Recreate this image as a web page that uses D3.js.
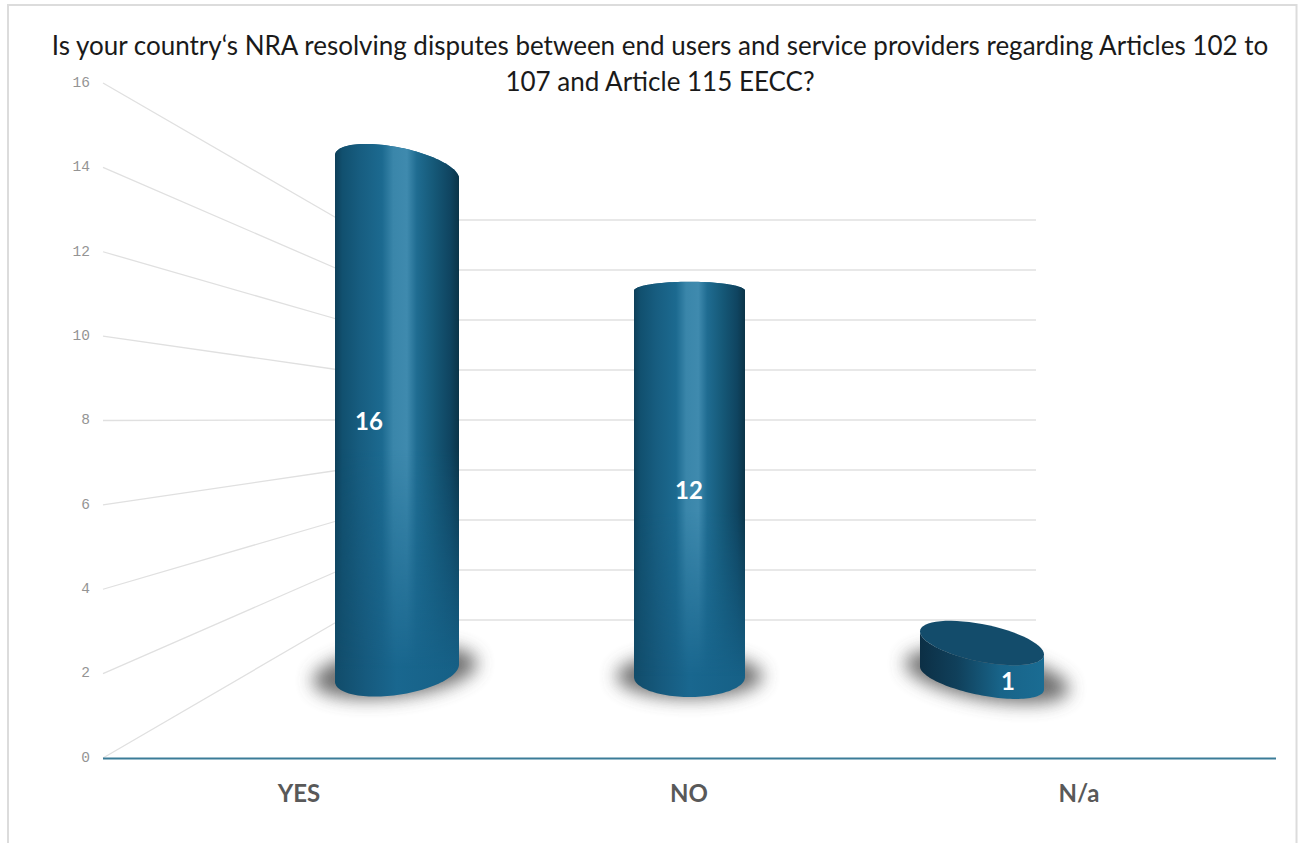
<!DOCTYPE html>
<html>
<head>
<meta charset="utf-8">
<script src="https://cdn.jsdelivr.net/npm/d3@7"></script>
<style>
  html, body { margin: 0; padding: 0; background: #fff; overflow: hidden; }
  svg { display: block; }
</style>
</head>
<body>
<svg id="chart" width="1303" height="843"></svg>
<script>
// Survey answers
const categories = ["YES", "NO", "N/a"];
const answers = [16, 12, 1];
const axisTicks = [0, 2, 4, 6, 8, 10, 12, 14, 16];
const titleLines = [
  "Is your country\u2018s NRA resolving disputes between end users and service providers regarding Articles 102 to",
  "107 and Article 115 EECC?"
];

// Perspective of each cylinder: base centre, radii, skew of the end caps,
// and how many pixels the full 0-16 range spans at that depth.
const cylinders = [
  { cx: 397, base: 673, span: 506, rx: 62, topB: 20, topS: 11.5, botB: 22, botS: -8.5, labelX: 369, labelY: 421,
    shadow: { cx: 395, cy: 672, rx: 82, ry: 25, s: -9 } },
  { cx: 689.5, base: 677, span: 515, rx: 55.5, topB: 9, topS: 0, botB: 20, botS: 0, labelX: 689, labelY: 490,
    shadow: { cx: 689.5, cy: 676, rx: 73, ry: 22, s: 0 } },
  { cx: 982, base: 678, span: 560, rx: 62, topB: 19, topS: 11.5, botB: 17.5, botS: 11.5, labelX: 1008, labelY: 681,
    shadow: { cx: 987, cy: 676, rx: 82, ry: 24, s: 13 }, openTop: true }
];

const svg = d3.select("#chart");
const defs = svg.append("defs");

// Horizontal shading of the cylinder walls
function addGradient(id, stops) {
  const g = defs.append("linearGradient").attr("id", id)
    .attr("x1", 0).attr("x2", 1).attr("y1", 0).attr("y2", 0);
  stops.forEach(([o, c]) => g.append("stop").attr("offset", o).attr("stop-color", c));
}
addGradient("wallLit", [
  [0, "#0e3f59"], [0.06, "#11506f"], [0.2, "#175d80"], [0.38, "#1c6a90"],
  [0.47, "#3a86aa"], [0.58, "#3f8aae"], [0.66, "#1f6c91"], [0.8, "#155877"],
  [0.93, "#0f4460"], [1, "#0b3448"]
]);
addGradient("wallBase", [
  [0, "#114c6a"], [0.25, "#165a7e"], [0.5, "#19678f"], [1, "#166086"]
]);
addGradient("wallLow", [
  [0, "#0c2f45"], [0.3, "#10405b"], [0.65, "#186489"], [1, "#1a6c93"]
]);

// The lit wall fades out towards the floor
const fade = defs.append("linearGradient").attr("id", "wallFade")
  .attr("x1", 0).attr("x2", 0).attr("y1", 0).attr("y2", 1);
[[0, "#fff"], [0.55, "#fff"], [0.95, "#000"]].forEach(([o, c]) =>
  fade.append("stop").attr("offset", o).attr("stop-color", c));
defs.append("mask").attr("id", "wallMask")
  .attr("maskContentUnits", "objectBoundingBox")
  .append("rect").attr("width", 1).attr("height", 1).attr("fill", "url(#wallFade)");

defs.append("filter").attr("id", "soft")
  .attr("x", "-30%").attr("y", "-80%").attr("width", "160%").attr("height", "260%")
  .append("feGaussianBlur").attr("stdDeviation", 9);

// Frame, open past the bottom edge of the page
svg.append("rect").attr("x", 8).attr("y", 5).attr("width", 1288.5).attr("height", 842)
  .attr("fill", "#fff").attr("stroke", "#dcdcdc").attr("stroke-width", 2);

// Scales: one for the front edge of the floor, one for the back wall
const frontY = d3.scaleLinear().domain([0, 16]).range([758, 83]);
const backY = d3.scaleLinear().domain([0, 16]).range([620, 220]);
const catX = d3.scalePoint().domain(categories).range([299, 1079]);
const plot = { front: 103, back: 340, right: 1036, floorRight: 1276 };

// Grid: slanted side wall and flat back wall
const grid = svg.append("g").attr("stroke", "#e0e0e0").attr("stroke-width", 1.3).attr("fill", "none");
grid.selectAll("line.side").data(axisTicks).join("line").attr("class", "side")
  .attr("x1", plot.front).attr("x2", plot.back)
  .attr("y1", d => frontY(d)).attr("y2", d => backY(d));
grid.selectAll("line.back").data(axisTicks).join("line").attr("class", "back")
  .attr("x1", plot.back).attr("x2", plot.right)
  .attr("y1", d => backY(d)).attr("y2", d => backY(d));

// Value axis
const axis = svg.append("g").attr("transform", `translate(${plot.front},0)`)
  .call(d3.axisLeft(frontY).tickValues(axisTicks).tickSize(0).tickPadding(13));
axis.select(".domain").remove();
axis.selectAll("text")
  .attr("font-family", "'Liberation Mono', monospace").attr("font-size", 14.5)
  .attr("fill", "#949494").attr("dy", "0.3em")
  .attr("transform", "translate(0,-1)");

// Floor line
svg.append("line").attr("x1", plot.front).attr("x2", plot.floorRight)
  .attr("y1", 758.5).attr("y2", 758.5)
  .attr("stroke", "#3b7c98").attr("stroke-width", 2);

// Point on a skewed end-cap ellipse
const capPoint = (cx, cy, a, b, s) => t =>
  [cx + a * Math.cos(t), cy + b * Math.sin(t) + s * Math.cos(t)];
const arc = (fn, t0, t1) => d3.range(0, 61).map(i => fn(t0 + (t1 - t0) * i / 60));
const linePath = d3.line();

const bars = svg.append("g").selectAll("g").data(answers).join("g");

bars.each(function (v, i) {
  const g = d3.select(this);
  const c = cylinders[i];
  const height = d3.scaleLinear().domain([0, 16]).range([0, c.span]);
  const topY = c.base - height(v);
  const top = capPoint(c.cx, topY, c.rx, c.topB, c.topS);
  const bot = capPoint(c.cx, c.base, c.rx, c.botB, c.botS);
  const sh = c.shadow;

  // Contact shadow on the floor
  g.append("path")
    .attr("d", linePath(arc(capPoint(sh.cx, sh.cy, sh.rx, sh.ry, sh.s), 0, 2 * Math.PI)) + "Z")
    .attr("fill", "#555").attr("opacity", 0.85).attr("filter", "url(#soft)");

  // Wall outline: far side of the top cap, down, near side of the bottom cap
  const wall = linePath(
    (c.openTop ? arc(top, Math.PI, 0) : arc(top, Math.PI, 2 * Math.PI))
      .concat(arc(bot, 0, Math.PI))
  ) + "Z";

  if (c.openTop) {
    g.append("path").attr("d", wall).attr("fill", "url(#wallLow)");
    g.append("path")
      .attr("d", linePath(arc(top, 0, 2 * Math.PI)) + "Z")
      .attr("fill", "#134c6b");
  } else {
    g.append("path").attr("d", wall).attr("fill", "url(#wallBase)");
    g.append("path").attr("d", wall).attr("fill", "url(#wallLit)").attr("mask", "url(#wallMask)");
  }

  // Value label
  g.append("text").attr("x", c.labelX).attr("y", c.labelY).attr("dy", "0.36em")
    .attr("text-anchor", "middle").attr("font-family", "Lato, sans-serif")
    .attr("font-weight", 700).attr("font-size", 24).attr("fill", "#fff")
    .text(v);
});

// Category labels
svg.append("g").selectAll("text").data(categories).join("text")
  .attr("x", d => catX(d)).attr("y", 802)
  .attr("text-anchor", "middle").attr("font-family", "Lato, sans-serif")
  .attr("font-weight", 700).attr("font-size", 24).attr("fill", "#595959")
  .text(d => d);

// Title
svg.append("g").selectAll("text").data(titleLines).join("text")
  .attr("x", 660).attr("y", (d, i) => 55 + i * 36)
  .attr("text-anchor", "middle").attr("font-family", "Lato, sans-serif")
  .attr("font-size", 26).attr("fill", "#1a1a1a")
  .text(d => d);
</script>
</body>
</html>
